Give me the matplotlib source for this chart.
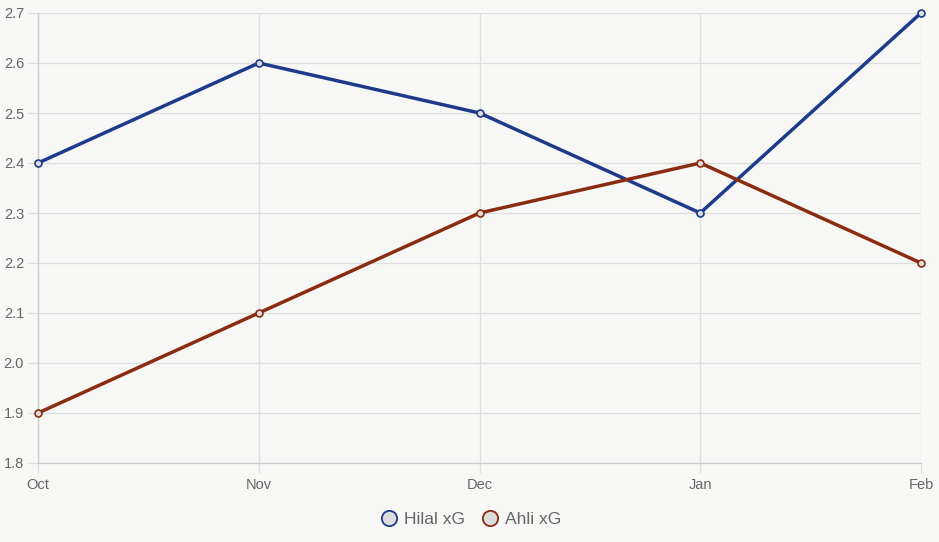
import matplotlib.pyplot as plt
from matplotlib.lines import Line2D

plt.rcParams["font.family"] = ["Liberation Sans", "DejaVu Sans"]

months = ["Oct", "Nov", "Dec", "Jan", "Feb"]
hilal_xg = [2.4, 2.6, 2.5, 2.3, 2.7]
ahli_xg = [1.9, 2.1, 2.3, 2.4, 2.2]

bg = "#f7f7f5"
grid_c = "#dedede"
hilal_c = "#1e3a8a"
ahli_c = "#8a2c12"
marker_fill = "#dcdcdc"

W, H = 939, 542
fig = plt.figure(figsize=(W / 100, H / 100), dpi=100, facecolor=bg)
ax = fig.add_axes([38 / W, (H - 463) / H, (921 - 38) / W, 450 / H])
ax.set_facecolor(bg)

x = range(len(months))
for vals, c, lbl in [(hilal_xg, hilal_c, "Hilal xG"), (ahli_xg, ahli_c, "Ahli xG")]:
    ax.plot(x, vals, color=c, lw=2.5, marker="o", ms=5, mfc=marker_fill,
            mec=c, mew=1.2, label=lbl, clip_on=False, zorder=3)

ax.set_xlim(0, len(months) - 1)
ax.set_ylim(1.8, 2.7)
ax.set_xticks(list(x))
ax.set_xticklabels(months)
ax.set_yticks([1.8 + 0.1 * i for i in range(10)])
ax.set_yticklabels([f"{1.8 + 0.1 * i:.1f}" for i in range(10)])

ax.grid(True, color=grid_c, lw=0.9)
ax.set_axisbelow(True)
for s in ["top", "right"]:
    ax.spines[s].set_visible(False)
for s in ["left", "bottom"]:
    ax.spines[s].set_color("#cccccc")
    ax.spines[s].set_linewidth(0.9)
ax.tick_params(axis="both", colors=grid_c, labelcolor="#666666", labelsize=10.5,
               length=7, width=0.9)
ax.tick_params(axis="x", pad=4)
ax.tick_params(axis="y", pad=3)

handles = [
    Line2D([], [], ls="none", marker="o", ms=11, mfc=marker_fill, mec=hilal_c, mew=1.3),
    Line2D([], [], ls="none", marker="o", ms=11, mfc=marker_fill, mec=ahli_c, mew=1.3),
]
fig.legend(handles, ["Hilal xG", "Ahli xG"], loc="center", bbox_to_anchor=(470 / W, 1 - 519 / H),
           ncol=2, frameon=False, fontsize=12.5, labelcolor="#666666",
           handletextpad=0.3, columnspacing=0.8, handlelength=1.2)

fig.savefig("out.png", dpi=100, facecolor=bg)
